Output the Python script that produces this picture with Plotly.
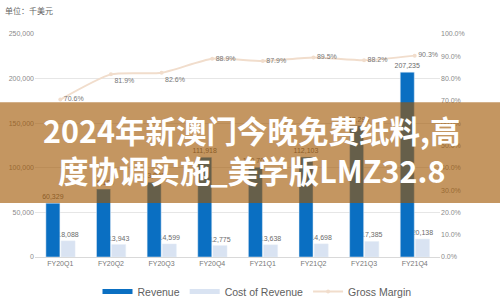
import plotly.graph_objects as go

categories = ["FY20Q1", "FY20Q2", "FY20Q3", "FY20Q4", "FY21Q1", "FY21Q2", "FY21Q3", "FY21Q4"]
revenue = [60329, 76100, 83883, 111918, 100700, 112103, 147290, 207235]
cost_of_revenue = [18088, 13943, 14599, 12775, 13638, 14698, 17385, 20138]
gross_margin = [0.706, 0.819, 0.826, 0.889, 0.879, 0.895, 0.882, 0.903]

BLUE = "#0a6fc2"
LIGHT = "#d9e3f2"
LINE = "#f1ddcc"

fig = go.Figure()

fig.add_trace(go.Bar(
    x=categories, y=cost_of_revenue, name="Cost of Revenue",
    marker=dict(color=LIGHT), offset=0.015, width=0.277,
    text=[f"{v:,}" for v in cost_of_revenue], textposition="outside", constraintext="none",
    textfont=dict(size=7, color="#6b6b6b"), cliponaxis=False, showlegend=False,
))
fig.add_trace(go.Bar(
    x=categories, y=revenue, name="Revenue",
    marker=dict(color=BLUE), offset=-0.285, width=0.277,
    text=[f"{v:,}" for v in revenue], textposition="outside", constraintext="none",
    textfont=dict(size=7, color="#6b6b6b"), cliponaxis=False, showlegend=False,
))
fig.add_trace(go.Scatter(
    x=categories, y=gross_margin, name="Gross Margin", yaxis="y2",
    mode="lines+markers+text", line=dict(color=LINE, width=2, shape="spline", smoothing=0.6),
    marker=dict(color=LINE, size=4),
    text=[f"{v*100:.1f}%" for v in gross_margin],
    textposition=["middle right", "bottom right", "bottom right", "middle right",
                  "middle right", "middle right", "middle right", "middle right"],
    textfont=dict(size=7, color="#777777"), cliponaxis=False, showlegend=False,
))

# legend entries
fig.add_trace(go.Scatter(x=[None], y=[None], mode="lines", name="Revenue",
                         line=dict(color=BLUE, width=5)))
fig.add_trace(go.Scatter(x=[None], y=[None], mode="lines", name="Cost of Revenue",
                         line=dict(color=LIGHT, width=5)))
fig.add_trace(go.Scatter(x=[None], y=[None], mode="lines+markers", name="Gross Margin",
                         line=dict(color=LINE, width=2), marker=dict(color=LINE, size=4)))

W, H = 500, 306
L, R, T, B = 35, 60, 33.5, 49
pw = W - L - R
ph = H - T - B

def px(x):
    return (x - L) / pw

def py(y):
    return (H - B - y) / ph

fig.update_layout(
    width=W, height=H,
    margin=dict(l=L, r=R, t=T, b=B, autoexpand=False),
    paper_bgcolor="white", plot_bgcolor="white",
    barmode="overlay",
    font=dict(family="Arial, Liberation Sans, sans-serif", color="#777777"),
    xaxis=dict(type="category", showgrid=False, showline=True, linecolor="#d9d9d9",
               linewidth=1, ticks="", tickfont=dict(size=7, color="#777777")),
    yaxis=dict(range=[0, 250000], dtick=50000, tickformat=",", showgrid=True,
               gridcolor="#e6e6e6", gridwidth=1, zeroline=False, ticks="",
               tickfont=dict(size=7, color="#8a8a8a")),
    yaxis2=dict(range=[0, 1], dtick=0.1, tickformat=".1%", overlaying="y", side="right",
                showgrid=False, zeroline=False, ticks="",
                tickfont=dict(size=7, color="#8a8a8a")),
    legend=dict(orientation="h", xref="container", x=257 / W, xanchor="center",
                yref="container", y=0, yanchor="bottom",
                font=dict(size=10.5, color="#5e5e5e"), bgcolor="rgba(0,0,0,0)"),
    showlegend=True,
)

fig.add_annotation(text="单位：千美元", xref="paper", yref="paper", x=px(3), y=py(10),
                   xanchor="left", yanchor="middle", showarrow=False,
                   font=dict(size=8, color="#666666", family="Noto Sans CJK SC"))

# overlay band
fig.add_shape(type="rect", xref="paper", yref="paper", x0=px(0), x1=px(500),
              y0=py(203), y1=py(102), fillcolor="rgba(160,85,0,0.62)",
              line=dict(width=0), layer="above")
fig.add_annotation(text="<b>2024年新澳门今晚免费纸料,高<br>度协调实施_美学版LMZ32.8</b>",
                   xref="paper", yref="paper", x=px(251), y=py(149.5),
                   xanchor="center", yanchor="middle", showarrow=False,
                   font=dict(size=30.5, color="white", family="Noto Sans CJK SC"))

fig.write_html("out.html")
